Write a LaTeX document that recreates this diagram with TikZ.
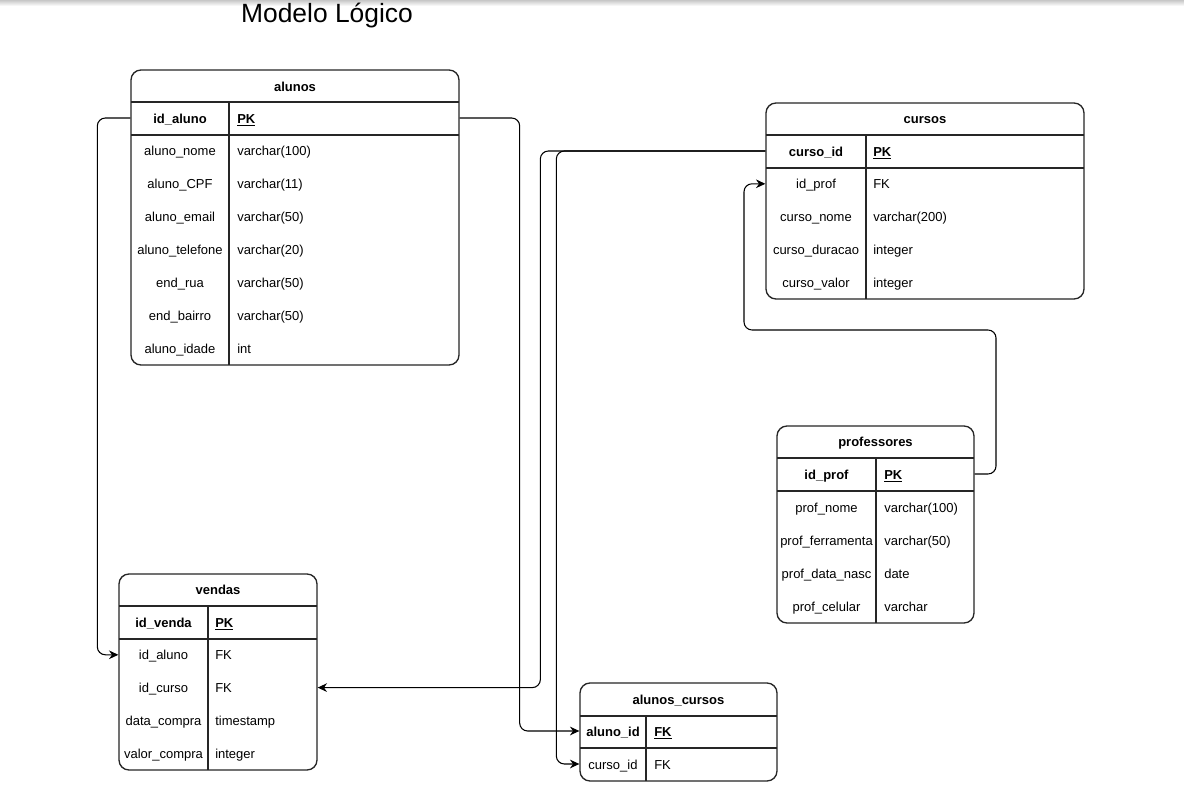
\documentclass[tikz,border=0pt]{standalone}
\usepackage{fontspec}
\setmainfont{Liberation Sans}
\usetikzlibrary{fit,arrows.meta}
\begin{document}
\begin{tikzpicture}[x=0.75pt,y=-0.75pt,
  tab/.style={draw=black!85, line width=1pt, rounded corners=7.5pt, inner sep=0pt},
  sep/.style={draw=black!85, line width=1pt},
  txt/.style={font=\fontsize{9.75}{11}\selectfont, inner sep=0pt, text height=9.8pt, text depth=2.2pt},
  ttl/.style={txt, font=\fontsize{9.75}{11}\selectfont\bfseries},
  keyf/.style={txt, font=\fontsize{9.75}{11}\selectfont\bfseries},
  fld/.style={txt},
  typ/.style={txt, anchor=west},
  link/.style={draw=black, line width=0.8pt, rounded corners=6pt, -{Stealth[length=7pt,width=6.5pt]}}]
\useasboundingbox (0,0) rectangle (1184,787);
\fill[white] (0,0) rectangle (1184,787);
\shade[top color=black!22, bottom color=white] (0,0) rectangle (1184,6);

\node[font=\fontsize{19.8}{22}\selectfont, anchor=base, inner sep=0pt] (title) at (327,23) {Modelo Lógico};

% ---------- alunos ----------
\node[tab, fit={(131,70)(459,365)}] (alunos) {};
\draw[sep] (131,102) -- (459,102) (131,135) -- (459,135) (229,102) -- (229,365);
\node[ttl] (alunos-t) at (295,86) {alunos};
\node[keyf] (alunos-k) at (180,118) {id\_aluno};
\node[typ, font=\fontsize{9.75}{11}\selectfont\bfseries] (alunos-pk) at (237,118) {\underline{PK}};
\foreach [count=\i] \n/\t in {aluno\_nome/varchar(100), aluno\_CPF/varchar(11), aluno\_email/varchar(50), aluno\_telefone/varchar(20), end\_rua/varchar(50), end\_bairro/varchar(50), aluno\_idade/int} {
  \node[fld] (alunos-f\i) at (180,{118+32.86*\i}) {\n};
  \node[typ] (alunos-y\i) at (237,{118+32.86*\i}) {\t};
}

% ---------- cursos ----------
\node[tab, fit={(766,103)(1084,299)}] (cursos) {};
\draw[sep] (766,135) -- (1084,135) (766,168) -- (1084,168) (866,135) -- (866,299);
\node[ttl] (cursos-t) at (925,118) {cursos};
\node[keyf] (cursos-k) at (816,151) {curso\_id};
\node[typ, font=\fontsize{9.75}{11}\selectfont\bfseries] (cursos-pk) at (873,151) {\underline{PK}};
\foreach [count=\i] \n/\t in {id\_prof/FK, curso\_nome/varchar(200), curso\_duracao/integer, curso\_valor/integer} {
  \node[fld] (cursos-f\i) at (816,{151+32.8*\i}) {\n};
  \node[typ] (cursos-y\i) at (873,{151+32.8*\i}) {\t};
}

% ---------- professores ----------
\node[tab, fit={(777,426)(974,623)}] (prof) {};
\draw[sep] (777,458) -- (974,458) (777,491) -- (974,491) (876,458) -- (876,623);
\node[ttl] (prof-t) at (875.5,441) {professores};
\node[keyf] (prof-k) at (826.5,474) {id\_prof};
\node[typ, font=\fontsize{9.75}{11}\selectfont\bfseries] (prof-pk) at (884,474) {\underline{PK}};
\foreach [count=\i] \n/\t in {prof\_nome/varchar(100), prof\_ferramenta/varchar(50), prof\_data\_nasc/date, prof\_celular/varchar} {
  \node[fld] (prof-f\i) at (826.5,{474+33*\i}) {\n};
  \node[typ] (prof-y\i) at (884,{474+33*\i}) {\t};
}

% ---------- vendas ----------
\node[tab, fit={(119,574)(317,770)}] (vendas) {};
\draw[sep] (119,606) -- (317,606) (119,639) -- (317,639) (208,606) -- (208,770);
\node[ttl] (vendas-t) at (218,589) {vendas};
\node[keyf] (vendas-k) at (163.5,622) {id\_venda};
\node[typ, font=\fontsize{9.75}{11}\selectfont\bfseries] (vendas-pk) at (215,622) {\underline{PK}};
\foreach [count=\i] \n/\t in {id\_aluno/FK, id\_curso/FK, data\_compra/timestamp, valor\_compra/integer} {
  \node[fld] (vendas-f\i) at (163.5,{622+32.8*\i}) {\n};
  \node[typ] (vendas-y\i) at (215,{622+32.8*\i}) {\t};
}

% ---------- alunos_cursos ----------
\node[tab, fit={(580,683)(777,781)}] (ac) {};
\draw[sep] (580,716) -- (777,716) (580,748) -- (777,748) (646,716) -- (646,781);
\node[ttl] (ac-t) at (678.5,699) {alunos\_cursos};
\node[keyf] (ac-k) at (613,731) {aluno\_id};
\node[typ, font=\fontsize{9.75}{11}\selectfont\bfseries] (ac-pk) at (654,731) {\underline{FK}};
\node[fld] (ac-f1) at (613,764) {curso\_id};
\node[typ] (ac-y1) at (654,764) {FK};

% ---------- connectors ----------
\draw[link] (alunos.west |- alunos-k) -- ++(-33,0) |- (vendas.west |- vendas-f1);
\draw[link] (alunos.east |- alunos-k) -- ++(60,0) |- (ac.west |- ac-k);
\draw[link] (cursos.west |- cursos-k) -- ++(-225,0) |- (vendas.east |- vendas-f2);
\draw[link] (cursos.west |- cursos-k) -- ++(-209,0) |- (ac.west |- ac-f1);
\coordinate (c5a) at (996,330);
\coordinate (c5b) at (744,330);
\draw[link] (prof.east |- prof-k) -| (c5a) -- (c5b) |- (cursos.west |- cursos-f1);
\end{tikzpicture}
\end{document}
